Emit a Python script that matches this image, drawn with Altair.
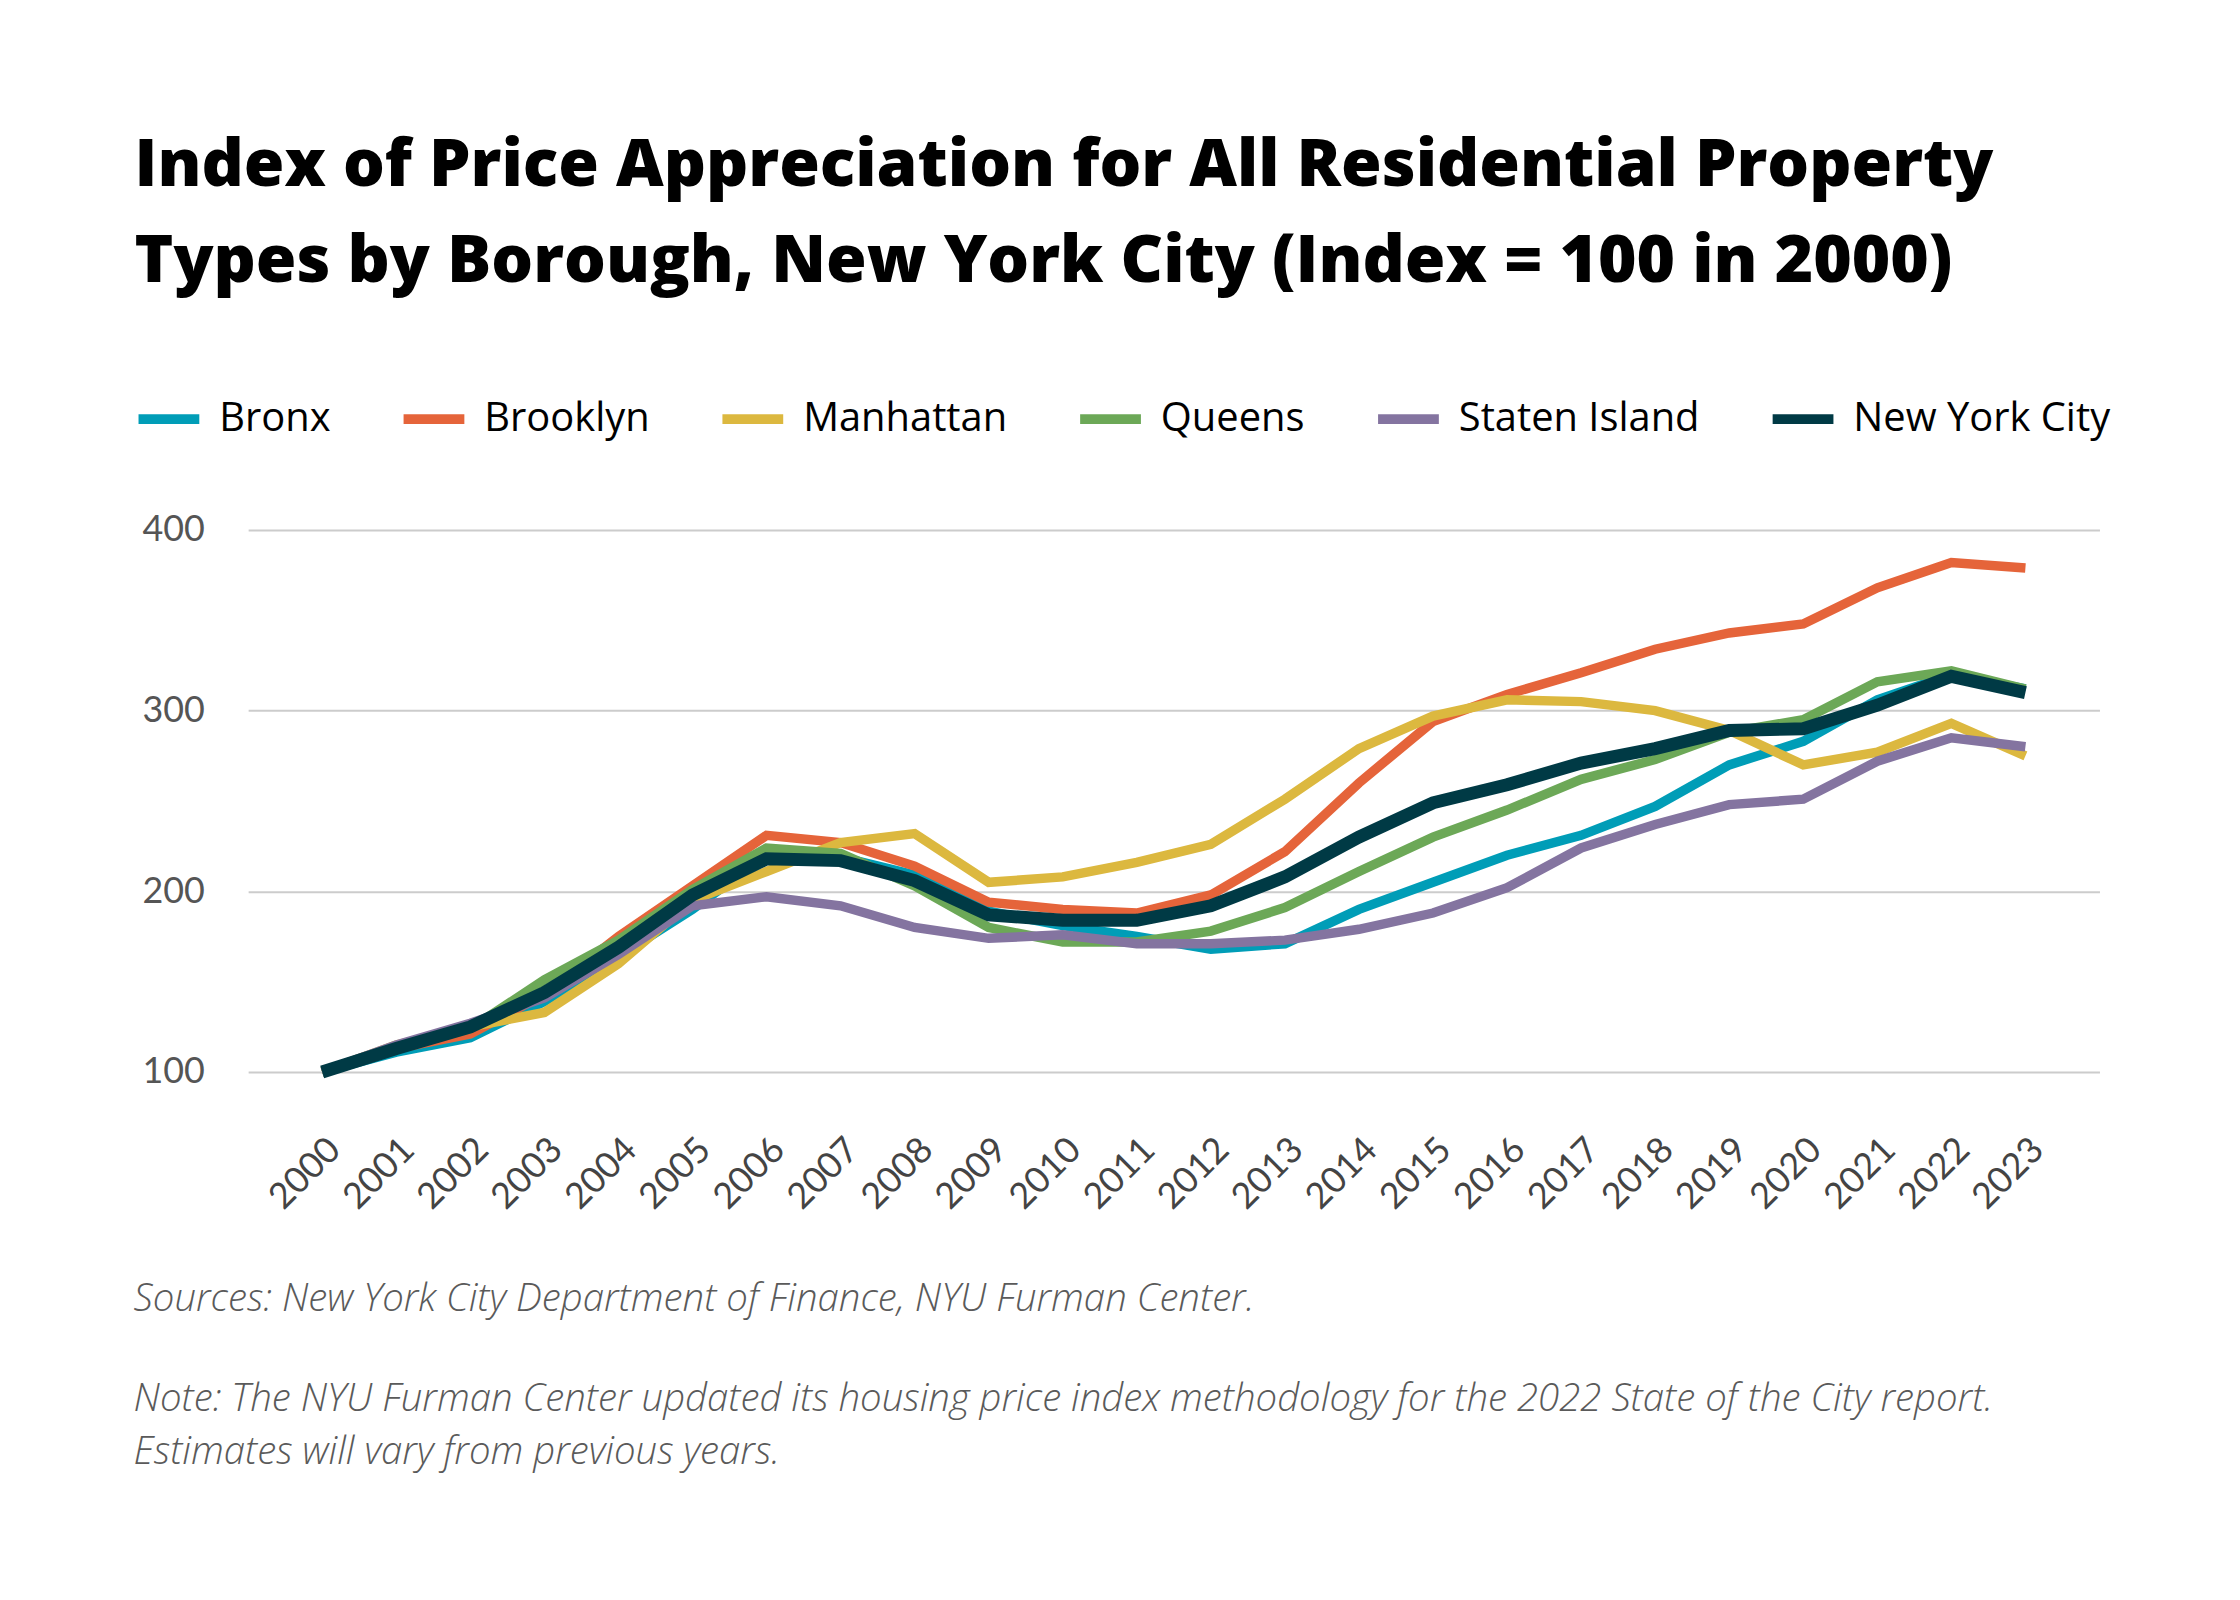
import altair as alt
import pandas as pd

years = list(range(2000, 2024))

bronx = [100, 111, 119, 139, 164, 190, 220, 219, 209, 189, 181, 175,
         168, 171, 190, 205, 220, 231, 247, 270, 283, 306, 320, 312]
brooklyn = [100, 113, 121, 143, 175, 203, 231, 227, 214, 194, 190, 188,
            198, 222, 260, 294, 309, 321, 334, 343, 348, 368, 382, 379]
manhattan = [100, 115, 125, 133, 160, 195, 211, 227, 232, 205, 208, 216,
             226, 251, 279, 297, 306, 305, 300, 289, 270, 277, 293, 275]
queens = [100, 113, 124, 151, 173, 201, 224, 221, 203, 180, 172, 172,
          178, 191, 211, 230, 245, 262, 273, 288, 295, 316, 322, 312]
staten_island = [100, 115, 127, 141, 165, 192, 197, 192, 180, 174, 176, 171,
                 171, 173, 179, 188, 202, 224, 237, 248, 251, 272, 285, 280]
new_york_city = [100, 113, 125, 144, 169, 198, 218, 217, 206, 187, 184, 184,
                 192, 208, 230, 249, 259, 271, 279, 289, 290, 303, 319, 310]

series = {
    'Bronx': bronx,
    'Brooklyn': brooklyn,
    'Manhattan': manhattan,
    'Queens': queens,
    'Staten Island': staten_island,
    'New York City': new_york_city,
}
names = list(series)
colors = ['#009db7', '#e5643a', '#dcb83f', '#6ca857', '#8474a0', '#003a45']

title_lines = ['Index of Price Appreciation for All Residential Property',
               'Types by Borough, New York City (Index = 100 in 2000)']
note_lines = [
    'Sources: New York City Department of Finance, NYU Furman Center.',
    'Note: The NYU Furman Center updated its housing price index methodology for the 2022 State of the City report.',
    'Estimates will vary from previous years.',
]
note_offsets = [784, 884, 937]

rows = []
for order, (name, values) in enumerate(series.items()):
    for year, value in zip(years, values):
        rows.append({'area': name, 'year': str(year), 'index': value, 'order': order})
df = pd.DataFrame(rows)

color = alt.Color(
    'area:N',
    scale=alt.Scale(domain=names, range=colors),
    sort=names,
    legend=alt.Legend(
        title=None,
        orient='none',
        legendX=-115,
        legendY=-147,
        direction='horizontal',
        symbolType='stroke',
        symbolSize=3721,
        symbolStrokeWidth=10,
        labelFont='Open Sans',
        labelFontSize=40,
        labelColor='#000000',
        labelOffset=15,
        columnPadding=53,
        labelLimit=400,
    ),
)

x = alt.X(
    'year:O',
    title=None,
    scale=alt.Scale(type='point', padding=1.14),
    axis=alt.Axis(
        labelAngle=-45,
        labelFont='Lato',
        labelFontSize=36,
        labelColor='#444444',
        labelPadding=60,
        domain=False,
        ticks=False,
        grid=False,
    ),
)

y = alt.Y(
    'index:Q',
    title=None,
    scale=alt.Scale(domain=[100, 400], nice=False, zero=False),
    axis=alt.Axis(
        values=[100, 200, 300, 400],
        labelFont='Lato',
        labelFontSize=36,
        labelColor='#555555',
        labelPadding=44,
        domain=False,
        ticks=False,
        gridColor='#cccccc',
        gridWidth=2,
    ),
)

boroughs = alt.Chart(df).transform_filter(
    alt.datum.area != 'New York City'
).mark_line(strokeWidth=9.5, strokeCap='butt', strokeJoin='miter').encode(
    x=x, y=y, color=color, detail='order:O'
)

city = alt.Chart(df).transform_filter(
    alt.datum.area == 'New York City'
).mark_line(strokeWidth=13, strokeCap='butt', strokeJoin='miter').encode(
    x=x, y=y, color=color
)

notes = pd.DataFrame({'line': note_lines, 'pos': note_offsets})

footnotes = alt.Chart(notes).mark_text(
    align='left', baseline='alphabetic', font='Open Sans', fontStyle='italic',
    fontWeight=300, fontSize=38.5, color='#5a5a5a'
).encode(
    x=alt.value(-115),
    y=alt.Y('pos:Q', scale=None, axis=None),
    text='line:N',
)

chart = alt.layer(boroughs, city, footnotes).properties(
    width=1858,
    height=544,
    background='#ffffff',
    autosize=alt.AutoSizeParams(type='none'),
    padding={'left': 241, 'top': 521, 'right': 133, 'bottom': 527},
    title=alt.Title(
        text=title_lines,
        anchor='start',
        frame='group',
        font='Open Sans',
        fontWeight=800,
        fontSize=66,
        lineHeight=96,
        color='#000000',
        dx=-114,
        offset=88,
    ),
).configure_view(strokeWidth=0, stroke='transparent')

chart.save('out.html', embed_options={'renderer': 'svg', 'actions': False})
